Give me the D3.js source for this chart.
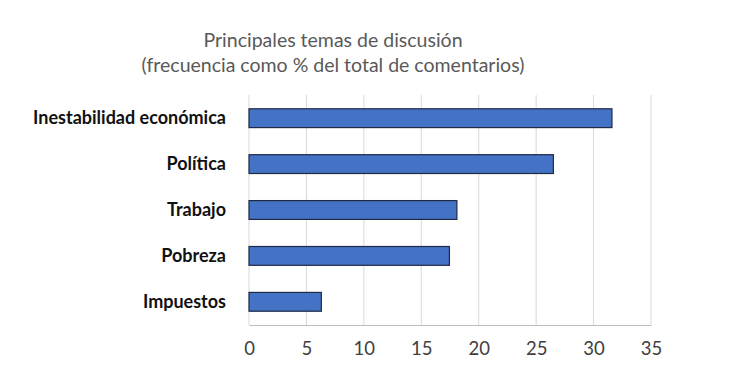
<!DOCTYPE html>
<html>
<head>
<meta charset="utf-8">
<script src="https://cdn.jsdelivr.net/npm/d3@7"></script>
<style>
  body { margin: 0; background: #fff; }
  text { font-family: Lato, "Open Sans", sans-serif; }
</style>
</head>
<body>
<svg id="chart"></svg>
<script>
// data
const categories = ['Inestabilidad económica', 'Política', 'Trabajo', 'Pobreza', 'Impuestos']
const values = [31.6, 26.5, 18.1, 17.45, 6.3]
const ticks = [0, 5, 10, 15, 20, 25, 30, 35]
const titleLines = ['Principales temas de discusión', '(frecuencia como % del total de comentarios)']

const width = 750
const height = 390
const margin = { top: 95, right: 100, bottom: 65, left: 249 }
const innerW = width - margin.left - margin.right
const innerH = height - margin.top - margin.bottom

const svg = d3.select('#chart')
    .attr('width', width)
    .attr('height', height)

const g = svg.append('g')
    .attr('transform', 'translate(' + margin.left + ',' + margin.top + ')')

const x = d3.scaleLinear()
    .domain([0, 35])
    .range([0, innerW + 1])

const y = d3.scaleBand()
    .domain(categories)
    .range([0, innerH])
    .paddingInner(0.59)
    .paddingOuter(0.3)

// grid
g.selectAll('.grid')
    .data(ticks)
    .enter()
    .append('line')
    .attr('class', 'grid')
    .attr('x1', d => x(d))
    .attr('x2', d => x(d))
    .attr('y1', 0)
    .attr('y2', innerH)
    .attr('stroke', '#d9d9d9')
    .attr('stroke-width', 1)

// x axis
const xAxis = d3.axisBottom(x)
    .tickValues(ticks)
    .tickSize(0)
    .tickPadding(17)

g.append('g')
    .attr('class', 'x axis')
    .attr('transform', 'translate(0,' + innerH + ')')
    .call(xAxis)
    .call(s => s.select('.domain').attr('stroke', '#bfbfbf'))
    .selectAll('text')
    .attr('font-size', 18.5)
    .attr('fill', '#404040')

// y axis
const yAxis = d3.axisLeft(y)
    .tickSize(0)
    .tickPadding(23)

g.append('g')
    .attr('class', 'y axis')
    .call(yAxis)
    .call(s => s.select('.domain').remove())
    .selectAll('text')
    .attr('font-size', 18)
    .attr('font-weight', 'bold')
    .attr('fill', '#111')

// bars
g.selectAll('.bar')
    .data(values)
    .enter()
    .append('rect')
    .attr('class', 'bar')
    .attr('x', x(0))
    .attr('y', (d, i) => y(categories[i]))
    .attr('width', d => x(d) - x(0))
    .attr('height', y.bandwidth())
    .attr('fill', '#4472c4')
    .attr('stroke', '#1f2a44')
    .attr('stroke-width', 1.2)

// title
svg.append('g')
    .selectAll('text')
    .data(titleLines)
    .enter()
    .append('text')
    .attr('x', 333)
    .attr('y', (d, i) => 47 + i * 25)
    .attr('text-anchor', 'middle')
    .attr('font-size', 19.5)
    .attr('fill', '#595959')
    .text(d => d)
</script>
</body>
</html>
